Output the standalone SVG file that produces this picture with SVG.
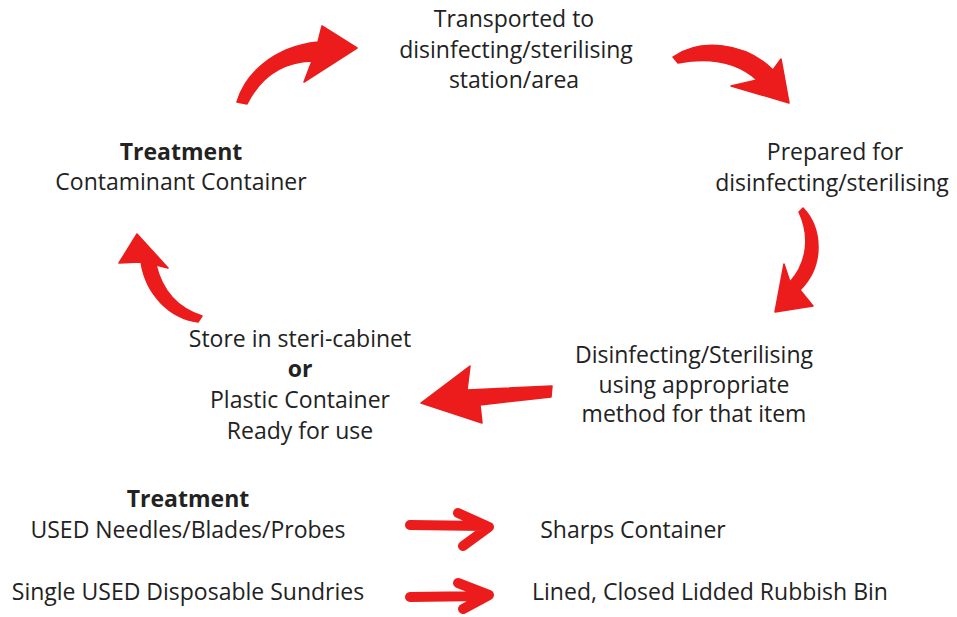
<svg xmlns="http://www.w3.org/2000/svg" width="957" height="617" viewBox="0 0 957 617">
<style>
text{font-family:"Open Sans","Noto Sans","Liberation Sans",sans-serif;font-size:23px;fill:#222;text-anchor:middle}
.b{font-weight:bold}
.arr{fill:#ec1c1c;stroke:#ec1c1c;stroke-width:1.5;stroke-linejoin:round}
.sa{fill:none;stroke:#ec1c1c;stroke-width:10;stroke-linecap:round;stroke-linejoin:round}
</style>
<rect width="957" height="617" fill="#fff"/>
<g id="connectors">
<path class="arr" d="M 237,102 C 245,75 272,47 318,42 L 322,26 L 357,48 L 304,82 L 312,61 C 282,62 260,78 247,104 Z"/>
<path class="arr" d="M 673,57 C 700,38 745,42 773,70 L 781,59 L 789,103 L 731,86 L 757,80 C 735,60 705,58 678,63 Z"/>
<path class="arr" d="M 803,208 C 822,228 825,265 800,290 L 813,306 L 775,312 L 784,264 L 790,282 C 808,262 810,235 799,212 Z"/>
<path class="arr" d="M 552,386 L 551,397 L 480,405 L 482,423 L 421,403 L 470,366 L 467,390 Z"/>
<path class="arr" d="M 202,316 C 177,308 162,290 156,265 L 168,268 L 137,234 L 119,263 L 141,262 C 146,295 170,318 198,322 Z"/>
<path class="sa" d="M 410,525 L 485,526 M 458,513 L 489,527 L 463,546"/>
<path class="sa" d="M 410,597 L 485,596 M 458,583 L 489,595 L 463,609"/>
</g>
<g id="transported">
<text x="514" y="27">Transported to</text>
<text x="516" y="58">disinfecting/sterilising</text>
<text x="514" y="88">station/area</text>
</g>
<g id="treatment-container">
<text class="b" x="181" y="160">Treatment</text>
<text x="181" y="190">Contaminant Container</text>
</g>
<g id="prepared">
<text x="835" y="160">Prepared for</text>
<text x="832" y="191">disinfecting/sterilising</text>
</g>
<g id="store">
<text x="300" y="347">Store in steri-cabinet</text>
<text class="b" x="300" y="377">or</text>
<text x="300" y="408">Plastic Container</text>
<text x="300" y="439">Ready for use</text>
</g>
<g id="disinfecting">
<text x="694" y="363">Disinfecting/Sterilising</text>
<text x="694" y="393">using appropriate</text>
<text x="694" y="422">method for that item</text>
</g>
<g id="treatment-needles">
<text class="b" x="188" y="507">Treatment</text>
<text x="188" y="538">USED Needles/Blades/Probes</text>
</g>
<g id="sharps">
<text x="633" y="538">Sharps Container</text>
</g>
<g id="sundries">
<text x="188" y="600">Single USED Disposable Sundries</text>
</g>
<g id="rubbish">
<text x="710" y="600">Lined, Closed Lidded Rubbish Bin</text>
</g>
</svg>
